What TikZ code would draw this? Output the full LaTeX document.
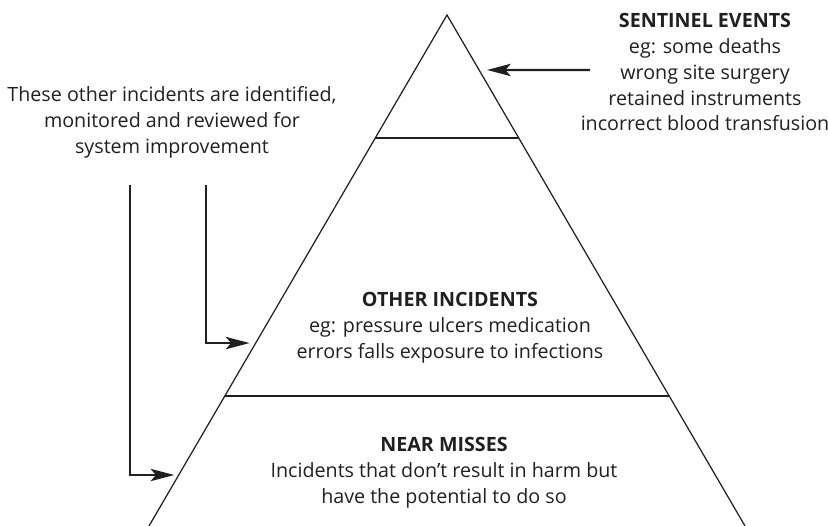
\documentclass[tikz,border=0pt]{standalone}
\usepackage{fontspec}
\setmainfont{Open Sans}
\usepackage{xcolor}
\usetikzlibrary{arrows.meta,positioning}
\definecolor{ink}{HTML}{231F20}

\begin{document}
\begin{tikzpicture}[
        x=0.02cm, y=-0.02cm,
        txt/.style={align=center, inner sep=0pt, text=ink, font=\fontsize{11.2}{14.7}\selectfont},
        edge/.style={draw=ink, line width=0.7pt},
        pointer/.style={draw=ink, line width=1.1pt, -{Stealth[length=13.5pt, width=7pt, inset=3pt]}}
    ]
    \useasboundingbox (0,0) rectangle (828,526) ;

    % pyramid
    \coordinate (top) at (447,15) ;
    \coordinate (left) at (149,526) ;
    \coordinate (right) at (745,526) ;
    \draw[edge] (left) -- (top) -- (right) ;

    \path (top) -- (left) coordinate[pos=0.2407] (l1) coordinate[pos=0.7456] (l2)
        coordinate[pos=0.642] (e2) coordinate[pos=0.9002] (e1) ;
    \path (top) -- (right) coordinate[pos=0.2407] (r1) coordinate[pos=0.7456] (r2)
        coordinate[pos=0.1076] (e0) ;
    \draw[edge] (l1) -- (r1) ;
    \draw[edge] (l2) -- (r2) ;

    % texts
    \node[txt, anchor=north] (sentinel) at (705,13)
        {\textbf{SENTINEL EVENTS}\\eg: some deaths\\wrong site surgery\\retained instruments\\incorrect blood transfusion} ;
    \node[txt, anchor=north] (other) at (450,292)
        {\textbf{OTHER INCIDENTS}\\eg: pressure ulcers medication\\errors falls exposure to infections} ;
    \node[txt, anchor=north] (near) at (444,437)
        {\textbf{NEAR MISSES}\\Incidents that don’t result in harm but\\have the potential to do so} ;
    \node[txt, anchor=north] (review) at (172,86)
        {These other incidents are identified,\\monitored and reviewed for\\system improvement} ;

    % arrows
    \coordinate (tail0) at (590,70) ;
    \coordinate (tip0) at ([xshift=4.5pt]e0) ;
    \draw[pointer, line width=1.4pt] (tail0) -- (tip0) ;

    \coordinate (drop1) at (130,185) ;
    \coordinate (tip1) at ([xshift=-2.5pt]e1) ;
    \draw[pointer] (drop1) |- (tip1) ;

    \coordinate (drop2) at (206,185) ;
    \coordinate (tip2) at ([xshift=-3.5pt]e2) ;
    \draw[pointer] (drop2) |- (tip2) ;

\end{tikzpicture}
\end{document}
